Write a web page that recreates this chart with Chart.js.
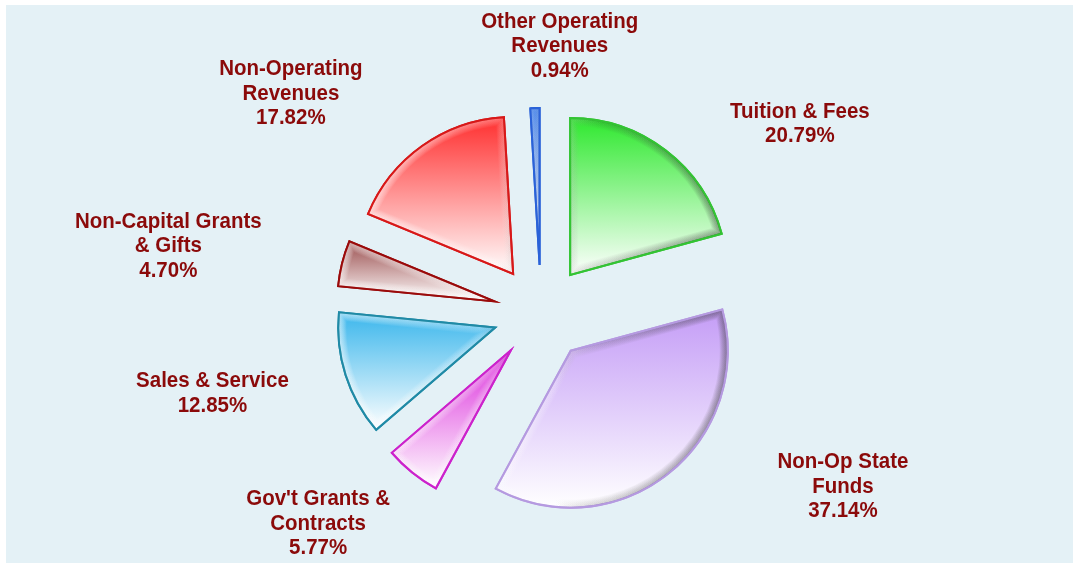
<!DOCTYPE html>
<html>
<head>
<meta charset="utf-8">
<script src="https://cdn.jsdelivr.net/npm/chart.js@4/dist/chart.umd.min.js"></script>
<style>
  body { margin: 0; background: #ffffff; }
  #wrap { width: 1073px; height: 563px; }
</style>
</head>
<body>
<div id="wrap"><canvas id="myChart" width="1073" height="563"></canvas></div>
<script>
// slices, clockwise from 12 o'clock
const categories = [
    ['Tuition & Fees'],
    ['Non-Op State', 'Funds'],
    ["Gov't Grants &", 'Contracts'],
    ['Sales & Service'],
    ['Non-Capital Grants', '& Gifts'],
    ['Non-Operating', 'Revenues'],
    ['Other Operating', 'Revenues']
];
const shares = [20.79, 37.14, 5.77, 12.85, 4.70, 17.82, 0.94];
const shareLabels = ['20.79%', '37.14%', '5.77%', '12.85%', '4.70%', '17.82%', '0.94%'];

// colours: top of the gradient, and the edge
const topColors = ['#2ee82e', '#c49cf6', '#dc2edc', '#3ab6ec', '#9a4e4e', '#ff2e2e', '#3a7ef0'];
const edgeColors = ['#33c433', '#b59ae0', '#cc22cc', '#1f8aa6', '#9a0a0a', '#d81818', '#2a62d8'];

const EXPLODE = 48;
const RADIUS = 157;
// label nudges from the radial anchor point
const labelNudge = [[110, 5], [150, -19], [-69, 20], [-95, 6], [-135, -8], [-108, -20], [26, -22]];

const sliceGeom = (chart, i) => {
    const a = chart.chartArea;
    const cx = (a.left + a.right) / 2;
    const cy = (a.top + a.bottom) / 2;
    const total = shares.reduce((s, v) => s + v, 0);
    let start = -Math.PI / 2;
    for (let k = 0; k < i; k++) start += shares[k] / total * 2 * Math.PI;
    const end = start + shares[i] / total * 2 * Math.PI;
    const mid = (start + end) / 2;
    return { x: cx + Math.cos(mid) * EXPLODE, y: cy + Math.sin(mid) * EXPLODE, start, end };
};

const sliceFill = context => {
    const chart = context.chart;
    const i = context.dataIndex;
    if (!chart.chartArea) return topColors[i];
    const g = sliceGeom(chart, i);
    const ys = [g.y, g.y + Math.sin(g.start) * RADIUS, g.y + Math.sin(g.end) * RADIUS];
    if (g.start <= -Math.PI / 2 + 1e-6) ys.push(g.y - RADIUS);
    if (g.start <= Math.PI / 2 && g.end >= Math.PI / 2) ys.push(g.y + RADIUS);
    const y0 = Math.min(...ys);
    const y1 = Math.max(...ys);
    const grad = chart.ctx.createLinearGradient(0, y0, 0, y1);
    grad.addColorStop(0, topColors[i]);
    grad.addColorStop(0.55, Chart.helpers.color(topColors[i]).mix(Chart.helpers.color('#ffffff'), 0.45).rgbString());
    grad.addColorStop(1, '#ffffff');
    return grad;
};

const panelBg = {
    id: 'panelBg',
    beforeDraw(chart) {
        const ctx = chart.ctx;
        ctx.save();
        ctx.fillStyle = '#e4f1f6';
        ctx.fillRect(6, 5, chart.width - 6, chart.height - 5);
        ctx.restore();
    }
};

// pull every slice out from the centre
const explode = {
    id: 'explode',
    afterUpdate(chart) {
        chart.getDatasetMeta(0).data.forEach(arc => {
            const mid = (arc.startAngle + arc.endAngle) / 2;
            arc.x += Math.cos(mid) * EXPLODE;
            arc.y += Math.sin(mid) * EXPLODE;
        });
    }
};

// soft bevel: light on the left, shadow on the right, then the edge again
const bevel = {
    id: 'bevel',
    afterDatasetsDraw(chart) {
        const ctx = chart.ctx;
        chart.getDatasetMeta(0).data.forEach((arc, i) => {
            const path = () => {
                ctx.beginPath();
                ctx.moveTo(arc.x, arc.y);
                ctx.arc(arc.x, arc.y, arc.outerRadius, arc.startAngle, arc.endAngle);
                ctx.closePath();
            };
            ctx.save();
            path();
            ctx.clip();
            const x0 = arc.x - arc.outerRadius;
            const x1 = arc.x + arc.outerRadius;
            const grad = ctx.createLinearGradient(x0, 0, x1, 0);
            grad.addColorStop(0, 'rgba(255,255,255,0.10)');
            grad.addColorStop(0.45, 'rgba(255,255,255,0.05)');
            grad.addColorStop(0.6, 'rgba(60,60,60,0.03)');
            grad.addColorStop(1, 'rgba(50,50,50,0.08)');
            ctx.strokeStyle = grad;
            ctx.lineJoin = 'miter';
            for (let w = 16; w >= 2; w -= 2) {
                ctx.lineWidth = w;
                path();
                ctx.stroke();
            }
            ctx.restore();
            ctx.save();
            ctx.strokeStyle = edgeColors[i];
            ctx.lineWidth = 2;
            ctx.lineJoin = 'miter';
            path();
            ctx.stroke();
            ctx.restore();
        });
    }
};

const sliceLabels = {
    id: 'sliceLabels',
    afterDatasetsDraw(chart) {
        const ctx = chart.ctx;
        const a = chart.chartArea;
        const cx = (a.left + a.right) / 2;
        const cy = (a.top + a.bottom) / 2;
        ctx.save();
        ctx.font = 'bold 20.5px "Liberation Sans", Arial, sans-serif';
        ctx.fillStyle = '#8b0a0a';
        ctx.textAlign = 'center';
        ctx.textBaseline = 'middle';
        chart.getDatasetMeta(0).data.forEach((arc, i) => {
            const mid = (arc.startAngle + arc.endAngle) / 2;
            const r = arc.outerRadius + EXPLODE + 40;
            const x = cx + Math.cos(mid) * r + labelNudge[i][0];
            const y = cy + Math.sin(mid) * r + labelNudge[i][1];
            const lines = categories[i].concat([shareLabels[i]]);
            const lh = 24.5;
            lines.forEach((t, k) => {
                const ly = y + (k - (lines.length - 1) / 2) * lh;
                ctx.save();
                ctx.translate(x, ly);
                ctx.scale(1, 1.12);
                ctx.fillText(t, 0, 0);
                ctx.restore();
            });
        });
        ctx.restore();
    }
};

const ctx = document.getElementById('myChart').getContext('2d');
new Chart(ctx, {
    type: 'pie',
    data: {
        labels: categories.map(c => c.join(' ')),
        datasets: [{
            data: shares,
            backgroundColor: sliceFill,
            borderColor: edgeColors,
            borderWidth: 2,
            borderJoinStyle: 'miter'
        }]
    },
    options: {
        responsive: false,
        animation: false,
        radius: RADIUS,
        layout: { padding: { left: 9, right: 0, top: 63, bottom: 0 } },
        plugins: {
            legend: { display: false },
            tooltip: { enabled: false }
        }
    },
    plugins: [panelBg, explode, bevel, sliceLabels]
});
</script>
</body>
</html>
